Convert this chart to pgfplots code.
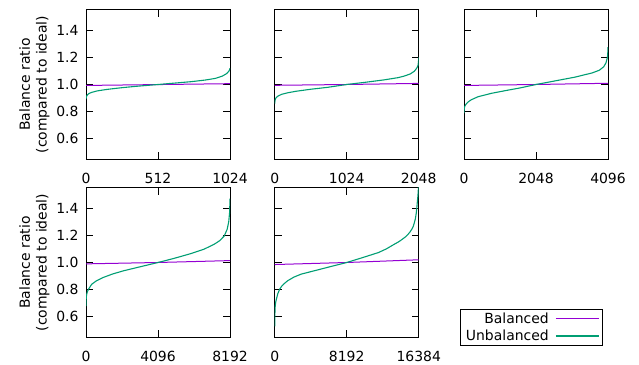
\documentclass[border=0pt]{standalone}
\usepackage{fontspec}
\setmainfont{DejaVu Sans}
\usepackage{pgfplots}
\pgfplotsset{compat=1.18}
\definecolor{bal}{HTML}{9400D3}
\definecolor{unb}{HTML}{009E73}
\pgfplotsset{
  panel/.style={
    scale only axis, width=144bp, height=149.6bp, anchor=south west,
    ymin=0.45, ymax=1.55,
    ytick={0.6,0.8,1.0,1.2,1.4},
    yticklabels={0.6,0.8,1.0,1.2,1.4},
    tick pos=both, tick align=inside,
    major tick length=7bp,
    every tick/.style={black, line width=0.8bp},
    axis line style={line width=1bp},
    xticklabel style={yshift=-10bp},
    yticklabel style={xshift=-4bp},
    scaled x ticks=false,
  },
  noylab/.style={yticklabels={}},
  ylab/.style={ylabel={Balance ratio\\(compared to ideal)}, ylabel style={align=center}},
  bline/.style={bal, line width=1bp},
  uline/.style={unb, line width=1.1bp},
}
\begin{document}
\begin{tikzpicture}[font=\fontsize{14}{16.8}\selectfont]
\useasboundingbox (0,0) rectangle (639bp,365bp);
% Plot 1
\begin{axis}[panel, ylab, at={(86bp,205.7bp)}, xmin=0, xmax=1024,
  xtick={0,512,1024}, xticklabels={0,512,1024}]
\addplot[bline] coordinates {(0,0.993) (512,0.9995) (1024,1.006)};
\addplot[uline] coordinates {(0,0.893) (2,0.905) (5,0.915) (10,0.924) (20,0.933) (40,0.942) (80,0.953) (150,0.964) (250,0.976) (350,0.986) (512,1.0) (650,1.012) (750,1.021) (850,1.033) (920,1.045) (970,1.062) (1000,1.080) (1015,1.096) (1021,1.108) (1024,1.12)};
\end{axis}
% Plot 2
\begin{axis}[panel, noylab, at={(274.7bp,205.7bp)}, xmin=0, xmax=2048,
  xtick={0,1024,2048}, xticklabels={0,1024,2048}]
\addplot[bline] coordinates {(0,0.994) (1024,1.0) (2048,1.008)};
\addplot[uline] coordinates {(0,0.86) (3,0.875) (8,0.89) (20,0.903) (47,0.915) (100,0.928) (184,0.939) (300,0.950) (512,0.965) (750,0.979) (1024,1.0) (1300,1.017) (1556,1.034) (1750,1.05) (1843,1.062) (1930,1.078) (1987,1.098) (2020,1.12) (2038,1.14) (2045,1.165) (2048,1.2)};
\end{axis}
% Plot 3
\begin{axis}[panel, noylab, at={(464bp,205.7bp)}, xmin=0, xmax=4096,
  xtick={0,2048,4096}, xticklabels={0,2048,4096}]
\addplot[bline] coordinates {(0,0.993) (2048,1.0) (4096,1.009)};
\addplot[uline] coordinates {(0,0.79) (5,0.815) (15,0.835) (40,0.848) (67,0.858) (120,0.872) (200,0.887) (400,0.910) (778,0.935) (1200,0.956) (1600,0.975) (2048,1.0) (2500,1.022) (3154,1.054) (3645,1.085) (3850,1.105) (3973,1.13) (4040,1.16) (4080,1.2) (4092,1.24) (4096,1.275)};
\end{axis}
% Plot 4
\begin{axis}[panel, ylab, at={(86bp,27.7bp)}, xmin=0, xmax=8192,
  xtick={0,4096,8192}, xticklabels={0,4096,8192}]
\addplot[bline] coordinates {(0,0.99) (4096,1.0) (8192,1.014)};
\addplot[uline] coordinates {(0,0.68) (10,0.73) (30,0.76) (76,0.785) (150,0.805) (324,0.84) (600,0.866) (983,0.89) (1500,0.915) (2134,0.939) (3000,0.966) (4096,1.0) (5000,1.03) (5980,1.066) (6700,1.097) (7291,1.134) (7600,1.16) (7864,1.195) (8030,1.244) (8120,1.3) (8170,1.37) (8192,1.47)};
\end{axis}
% Plot 5
\begin{axis}[panel, noylab, at={(274.7bp,27.7bp)}, xmin=0, xmax=16384,
  xtick={0,8192,16384}, xticklabels={0,8192,16384},
  legend cell align=right, legend plot pos=right,
  legend image code/.code={\draw[#1] (0bp,0bp) -- (43bp,0bp);},
  legend style={at={(axis description cs:1.287,-0.058)}, anchor=south west,
    draw=black, line width=0.8bp, inner xsep=3bp, inner ysep=1bp,
    nodes={inner sep=2.5bp}, column sep=4bp}]
\addplot[bline] coordinates {(0,0.985) (8192,1.0) (16384,1.02)};
\addlegendentry{Balanced}
\addplot[uline] coordinates {(0,0.53) (5,0.58) (20,0.62) (60,0.68) (120,0.71) (190,0.73) (350,0.77) (573,0.805) (800,0.826) (1000,0.84) (1475,0.866) (2200,0.893) (3034,0.915) (4500,0.939) (6000,0.964) (8192,1.0) (10000,1.036) (11796,1.073) (12700,1.10) (13600,1.134) (14100,1.152) (14500,1.17) (14850,1.187) (15170,1.207) (15400,1.225) (15600,1.245) (15760,1.265) (15892,1.293) (16000,1.32) (16100,1.36) (16170,1.40) (16220,1.44) (16280,1.48) (16330,1.52) (16384,1.6)};
\addlegendentry{Unbalanced}
\end{axis}
\end{tikzpicture}
\end{document}
